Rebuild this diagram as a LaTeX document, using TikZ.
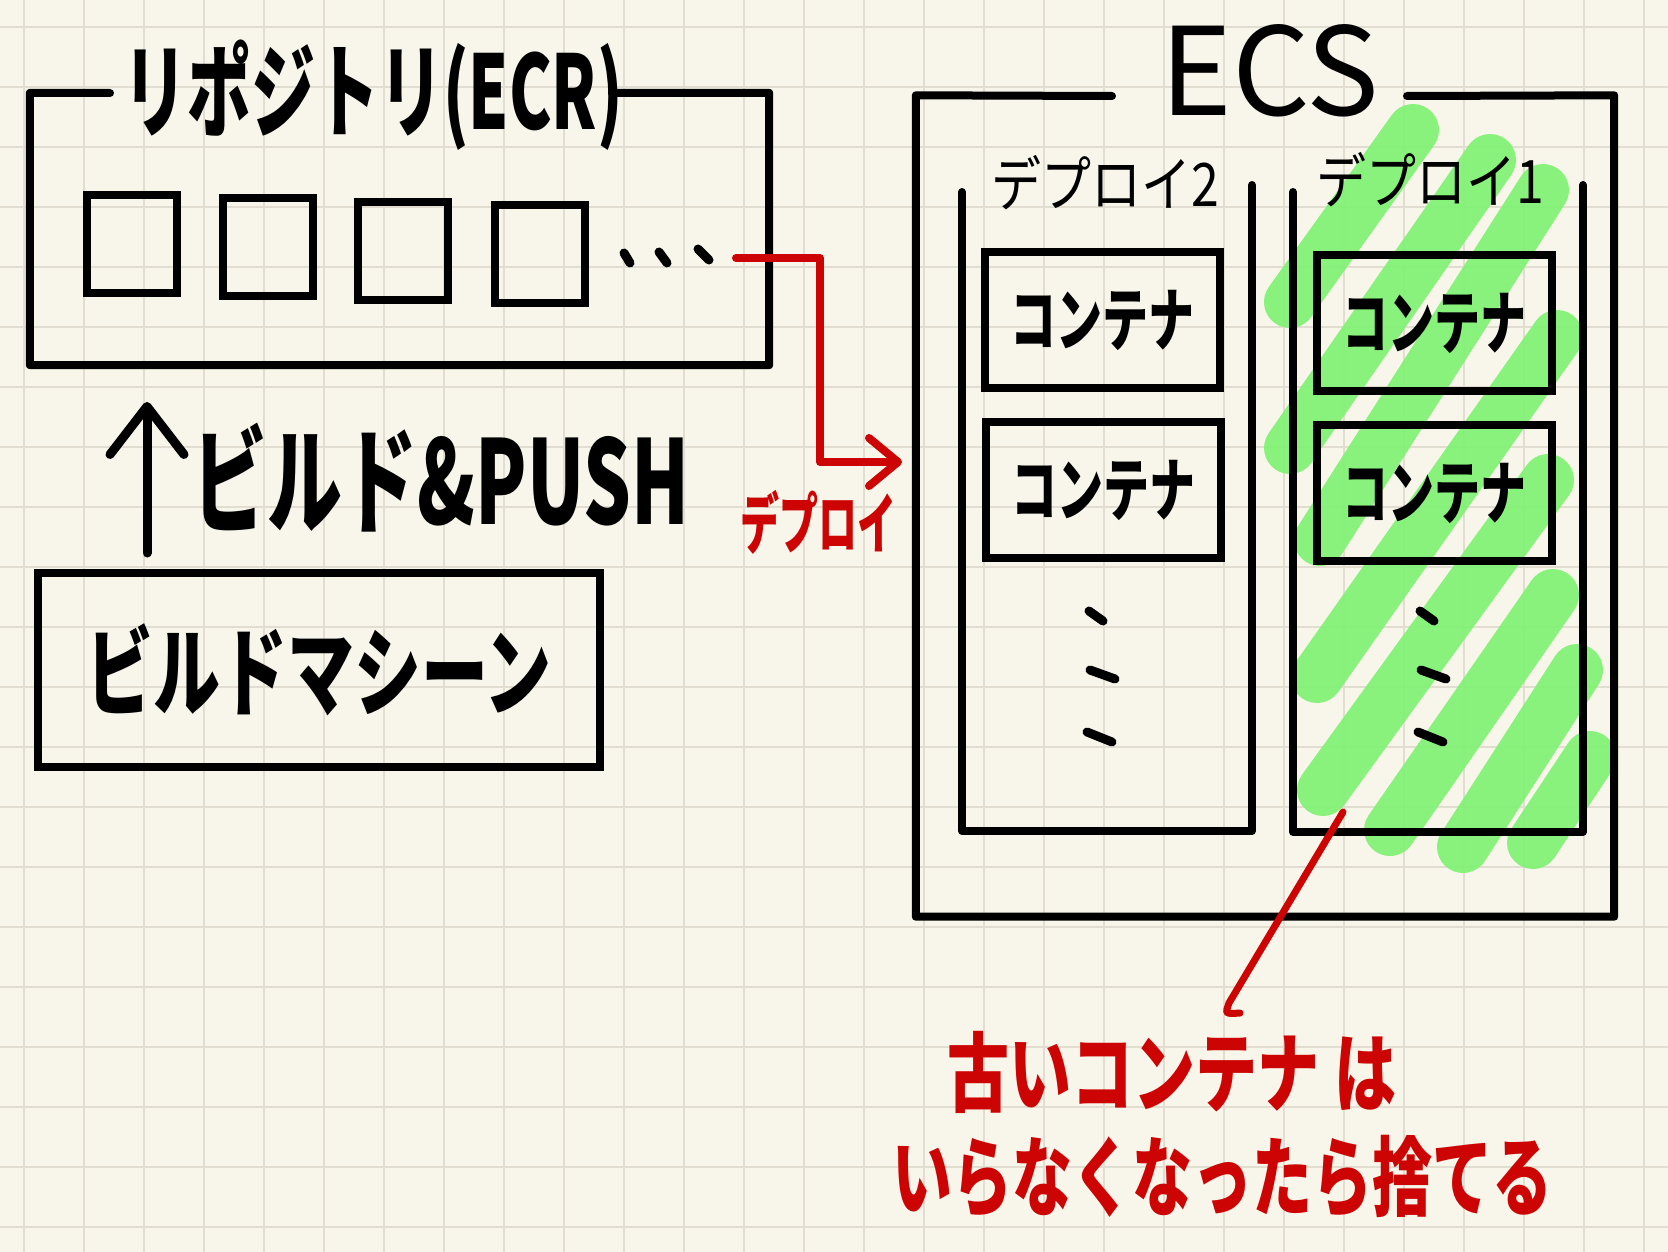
\documentclass[tikz,border=0pt]{standalone}
\usepackage{fontspec}
\usepackage{graphicx}
\usetikzlibrary{arrows.meta}

\newfontfamily\jp{Noto Sans CJK JP}
\newcommand{\fsz}[1]{\fontsize{#1pt}{#1pt}\selectfont}
\newcommand{\tall}[2][1.5]{\scalebox{1}[#1]{#2}}

\definecolor{paper}{RGB}{248,246,234}
\definecolor{gridline}{RGB}{225,222,209}
\definecolor{marker}{RGB}{126,242,114}
\definecolor{pen}{RGB}{204,4,4}

\begin{document}
\begin{tikzpicture}[x=1pt, y=-1pt,
  frame/.style={line width=8pt, line join=round, line cap=round},
  box/.style={rectangle, draw, line width=8pt, inner sep=0pt,
    minimum width=235pt, minimum height=136pt},
  slot/.style={rectangle, draw, line width=7.5pt, inner sep=0pt,
    minimum width=90pt, minimum height=98pt},
  hand/.style={font=\jp\bfseries\fsz{#1}, inner sep=0pt},
  light/.style={font=\jp\fsz{#1}, inner sep=0pt},
  redhand/.style={hand=#1, text=pen},
  push/.style={-{Straight Barb[length=48pt,width=74pt,round]},
    line width=9pt, line cap=round},
  deploy/.style={-{Straight Barb[length=29pt,width=48pt,round]},
    draw=pen, line width=8pt, line join=round, line cap=round},
  note/.style={draw=pen, line width=7pt, line cap=round},
  ellip/.style={line width=9pt, line cap=round},
  hatch/.style={draw=marker, line width=52pt, line cap=round, opacity=.9},
  paperline/.style={draw=gridline, line width=2.5pt}]

  % squared paper
  \fill[paper] (0,0) rectangle (1668,1252);
  \useasboundingbox (0,0) rectangle (1668,1252);
  \foreach \x in {24,84,...,1644} \draw[paperline] (\x,0) -- (\x,1252);
  \foreach \y in {27,87,...,1227} \draw[paperline] (0,\y) -- (1668,\y);

  % highlighter over the old deployment
  \foreach \ax/\ay/\bx/\by in {1290/302/1413/130, 1290/448/1490/160,
      1320/540/1543/190, 1317/677/1557/336, 1323/790/1548/480,
      1390/830/1553/595, 1463/847/1577/670, 1533/843/1590/757}
    \draw[hatch] (\ax,\ay) -- (\bx,\by);

  % repository
  \node[minimum width=739pt, minimum height=272pt, inner sep=0pt] (repo) at (399.5,229) {};
  \draw[frame] (110,93) -- (repo.north west) -- (repo.south west)
    -- (repo.south east) -- (repo.north east) -- (612,93);
  \node[hand=64] (repotitle) at (373,95) {\tall[1.6]{リポジトリ(ECR)}};
  \foreach \n/\x/\y in {1/132/244, 2/268/247, 3/403/251, 4/540/254}
    \node[slot] (slot\n) at (\x,\y) {};
  \draw[ellip] (624,253) -- (630,263);
  \draw[ellip] (659,252) -- (667,263);
  \draw[ellip] (698,249) -- (709,260);

  % build machine
  \node[rectangle, draw, line width=8pt, minimum width=562pt, minimum height=194pt,
    hand=67] (bm) at (319,670) {\tall[1.45]{ビルドマシーン}};
  \coordinate (pushfrom) at (147,553);
  \coordinate (pushto) at (147,402);
  \draw[push] (pushfrom) -- (pushto);
  \node[hand=75] (pushlbl) at (441,478) {\tall[1.55]{ビルド\&PUSH}};

  % ECS
  \node[minimum width=698pt, minimum height=821pt, inner sep=0pt] (ecs) at (1265,506) {};
  \draw[frame] (1112,96) -- (ecs.north west) -- (ecs.south west)
    -- (ecs.south east) -- (ecs.north east) -- (1407,96);
  \node[light=122] (ecstitle) at (1270,71) {ECS};

  \draw[frame] (962,192) -- (962,831) -- (1252,831) -- (1252,185);
  \draw[frame] (1293,192) -- (1293,832) -- (1583,832) -- (1583,185);
  \node[light=50] (dep2) at (1105,183) {\tall[1.2]{デプロイ2}};
  \node[light=50] (dep1) at (1430,180) {\tall[1.2]{デプロイ1}};

  \node[box, hand=46] (con21) at (1102,320) {\tall{コンテナ}};
  \node[box, hand=46] (con22) at (1103,490) {\tall{コンテナ}};
  \node[box, hand=46] (con11) at (1434,323) {\tall{コンテナ}};
  \node[box, hand=46] (con12) at (1434,493) {\tall{コンテナ}};

  \foreach \dx in {0,331} {
    \draw[ellip] (1089+\dx,611) -- (1103+\dx,621);
    \draw[ellip] (1090+\dx,670) -- (1115+\dx,679);
    \draw[ellip] (1087+\dx,732) -- (1112+\dx,742);
  }

  % deploy
  \coordinate (dstart) at (736,258);
  \coordinate (dturn) at (820,462);
  \coordinate (dend) at (902,462);
  \draw[deploy] (dstart) -| (dturn) -- (dend);
  \node[redhand=39] (deploylbl) at (818,522) {\tall[1.7]{デプロイ}};

  % note
  \coordinate (oldfrom) at (1343,812);
  \coordinate (oldto) at (1229,1003);
  \draw[note] (oldfrom) -- (oldto) .. controls (1225,1014) .. (1240,1013);
  \node[redhand=62] (old1) at (1172,1072) {\tall[1.4]{古いコンテナ は}};
  \node[redhand=60] (old2) at (1222,1177) {\tall[1.45]{いらなくなったら捨てる}};
\end{tikzpicture}
\end{document}
